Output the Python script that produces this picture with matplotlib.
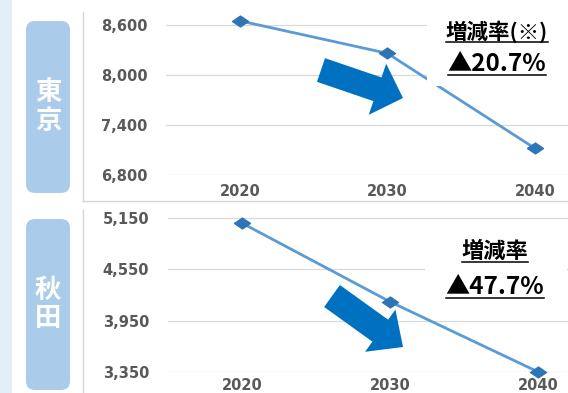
import matplotlib
matplotlib.use("Agg")
import matplotlib.pyplot as plt
from matplotlib.patches import Rectangle, FancyBboxPatch, Polygon
from matplotlib.lines import Line2D
from matplotlib.path import Path
from matplotlib.transforms import IdentityTransform
import numpy as np

# data
years = ["2020", "2030", "2040"]
tokyo_pop = [8650, 8260, 7120]
akita_pop = [5090, 4170, 3350]
tokyo_ticks = [6800, 7400, 8000, 8600]
akita_ticks = [3350, 3950, 4550, 5150]
tokyo_rate = "▲20.7%"
akita_rate = "▲47.7%"

W, H = 568, 393
fig = plt.figure(figsize=(W / 100, H / 100), dpi=100)
fig.patch.set_facecolor("white")
px = IdentityTransform()


def box(x0, y0, x1, y1):
    # pixel box (y downwards) -> figure fraction rect
    return [x0 / W, 1 - y1 / H, (x1 - x0) / W, (y1 - y0) / H]


def flip(x, y):
    return x, H - y


line_col = "#5B9BD5"
mark_col = "#2E75B6"
tick_col = "#595959"
grid_col = "#d9d9d9"
arrow_col = "#0070C0"

# flat diamond like the excel marker
diamond = Path([(-1, 0), (0, 0.68), (1, 0), (0, -0.68), (-1, 0)],
               [Path.MOVETO, Path.LINETO, Path.LINETO, Path.LINETO,
                Path.CLOSEPOLY])


def draw_panel(rect, values, ticks, ylim, xlim, xpad):
    ax = fig.add_axes(rect)
    ax.set_facecolor("none")
    x = np.arange(len(values))
    ax.plot(x, values, color=line_col, lw=2, marker=diamond, ms=11.5,
            mfc=mark_col, mec=mark_col, clip_on=False, zorder=3)
    ax.set_xlim(*xlim)
    ax.set_ylim(*ylim)
    ax.set_yticks(ticks)
    ax.set_yticklabels([f"{t:,}" for t in ticks])
    ax.set_xticks(x)
    ax.set_xticklabels(years)
    ax.grid(axis="y", color=grid_col, lw=0.9)
    ax.set_axisbelow(True)
    for s in ax.spines.values():
        s.set_visible(False)
    ax.tick_params(length=0, colors=tick_col, labelsize=10.5)
    ax.tick_params(axis="y", pad=13.5)
    ax.tick_params(axis="x", pad=xpad)
    for lab in ax.get_xticklabels() + ax.get_yticklabels():
        lab.set_fontweight("bold")
        lab.set_family("DejaVu Sans")
    return ax


draw_panel(box(166, 12, 568, 175), tokyo_pop, tokyo_ticks,
           (6800, 8756), (-0.5, 2.224), 6.5)
draw_panel(box(168, 210, 568, 372), akita_pop, akita_ticks,
           (3350, 5243.5), (-0.5, 2.2), 4.5)

# left pale strip
fig.patches.append(Rectangle((0, 0), 12, H, transform=px,
                             facecolor="#e4eef8", edgecolor="none", zorder=0))

# panel borders
for (xa, ya), (xb, yb) in [((83, 12), (83, 201)), ((83, 201), (568, 201)),
                           ((83, 210), (83, 393))]:
    x0, y0 = flip(xa, ya)
    x1, y1 = flip(xb, yb)
    fig.lines.append(Line2D([x0, x1], [y0, y1], transform=px,
                            color="#d6d6d6", lw=1))

# region labels
for (y0, y1, name) in [(21, 193, "東\n京"), (219, 390, "秋\n田")]:
    fig.patches.append(FancyBboxPatch(
        (26, H - y1), 44, y1 - y0, transform=px,
        boxstyle="round,pad=0,rounding_size=9",
        facecolor="#abcbea", edgecolor="none", zorder=1))
    fig.text(48 / W, 1 - (y0 + y1) / 2 / H, name, ha="center", va="center",
             color="white", fontsize=19, fontweight="bold",
             family=["Noto Sans CJK JP", "DejaVu Sans"], linespacing=1.05)

# white boxes behind the rate texts
fig.patches.append(Rectangle((427, H - 86), 141, 72, transform=px,
                             facecolor="white", edgecolor="none", zorder=2))
fig.patches.append(Rectangle((425, H - 305), 142, 77, transform=px,
                             facecolor="white", edgecolor="none", zorder=2))


def arrow(tail, tip, shaft_w, head_w, head_l):
    t = np.array(flip(*tail), float)
    p = np.array(flip(*tip), float)
    d = p - t
    d /= np.hypot(*d)
    n = np.array([-d[1], d[0]])
    b = p - d * head_l
    pts = [t + n * shaft_w / 2, b + n * shaft_w / 2, b + n * head_w / 2, p,
           b - n * head_w / 2, b - n * shaft_w / 2, t - n * shaft_w / 2]
    fig.patches.append(Polygon(pts, closed=True, transform=px,
                               facecolor=arrow_col, edgecolor="none",
                               zorder=3))


arrow((321, 70), (403, 98), 25, 54, 27)
arrow((332, 296), (403, 347), 27, 52, 28)

# rate texts with underline
jp = ["Noto Sans CJK JP", "DejaVu Sans"]
texts = [
    (497, 32, "増減率(※)", 15.5),
    (497, 64, tokyo_rate, 17.5),
    (495, 251, "増減率", 16),
    (495, 287, akita_rate, 17.5),
]
made = []
for x, y, s, fs in texts:
    t = fig.text(x / W, 1 - y / H, s, ha="center", va="center",
                 fontsize=fs, fontweight="bold", color="black",
                 family=jp, zorder=5)
    made.append(t)

fig.canvas.draw()
r = fig.canvas.get_renderer()
for t in made:
    bb = t.get_window_extent(r)
    yl = bb.y0 + 1
    fig.lines.append(Line2D([bb.x0, bb.x1], [yl, yl], transform=px,
                            color="black", lw=1.1, zorder=5))

fig.savefig("out.png", dpi=100)
